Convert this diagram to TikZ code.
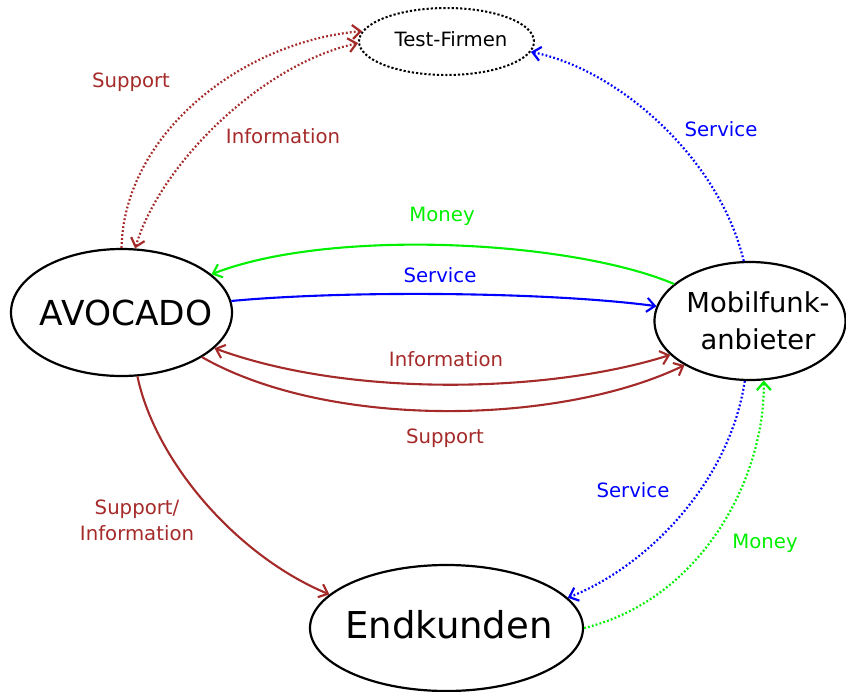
\documentclass[tikz,border=0pt]{standalone}
\usepackage{fontspec}
\setmainfont{DejaVu Sans}
\usetikzlibrary{arrows.meta,shapes.geometric}
\definecolor{cbrown}{RGB}{165,42,42}
\definecolor{cblue}{RGB}{0,0,255}
\definecolor{cgreen}{RGB}{0,240,0}
\tikzset{
  ent/.style={ellipse, draw=black, line width=2.2pt, inner sep=0pt, fill=white},
  lbl/.style={font=\fontsize{19.7}{23}\selectfont, inner sep=0pt},
  conn/.style={line width=2.1pt, arrows={-Straight Barb[length=8pt,width=14pt]}},
  dots/.style={line width=2.2pt, dash pattern=on 1.8pt off 2.2pt},
  both/.style={arrows={Straight Barb[length=8pt,width=14pt]-Straight Barb[length=8pt,width=14pt]}}
}
\begin{document}
\begin{tikzpicture}[x=1pt,y=-1pt]
\useasboundingbox (0,0) rectangle (846,691);
% entities
\node[ent, dotted, line width=2pt, minimum width=175pt, minimum height=67pt] (tf) at (446.5,41.5) {};
\node[lbl, text=black] (tft) at (451,39) {Test-Firmen};
\node[ent, minimum width=221pt, minimum height=127pt] (avo) at (121.5,312.5) {};
\node[font=\fontsize{34.4}{40}\selectfont, inner sep=0pt] (avot) at (126,313) {AVOCADO};
\node[ent, minimum width=191pt, minimum height=118pt] (mob) at (750,321) {};
\node[font=\fontsize{27.4}{37}\selectfont, inner sep=0pt, align=center] (mobt) at (758,321) {Mobilfunk-\\anbieter};
\node[ent, minimum width=273pt, minimum height=126pt] (ek) at (446.5,628) {};
\node[font=\fontsize{37}{44}\selectfont, inner sep=0pt] (ekt) at (449,625) {Endkunden};

% connectors
\draw[conn, dots, cbrown] (avo.90) .. controls (124,135) and (240,42) .. (tf.173);
\draw[conn, dots, both, cbrown] (tf.181) .. controls (260,65) and (160,165) .. (avo.78);
\draw[conn, dots, cblue] (mob.96) .. controls (720,160) and (620,70) .. (tf.-7);
\draw[conn, cgreen] (mob.154) .. controls (570,240) and (330,228) .. (avo.23);
\draw[conn, cblue] (avo.6) .. controls (350,290) and (550,292) .. (mob.171);
\draw[conn, both, cbrown] (avo.-21) .. controls (350,398) and (550,393) .. (mob.203);
\draw[conn, cbrown] (avo.-29.5) .. controls (330,430) and (560,425) .. (mob.214);
\draw[conn, cbrown] (avo.-76) .. controls (155,460) and (235,555) .. (ek.164);
\draw[conn, dots, cblue] (mob.-95) .. controls (730,480) and (650,565) .. (ek.14);
\draw[conn, dots, cgreen] (ek.0) .. controls (700,600) and (765,480) .. (mob.-77);

% labels
\node[lbl, text=cbrown] (l1) at (131,82) {Support};
\node[lbl, text=cbrown] (l2) at (283,136) {Information};
\node[lbl, text=cblue] (l3) at (721,129) {Service};
\node[lbl, text=cgreen] (l4) at (442,216) {Money};
\node[lbl, text=cblue] (l5) at (440,275) {Service};
\node[lbl, text=cbrown] (l6) at (446,359) {Information};
\node[lbl, text=cbrown] (l7) at (445,438) {Support};
\node[lbl, text=cbrown, align=center, font=\fontsize{19.7}{26}\selectfont] (l8) at (137,520) {Support/\\Information};
\node[lbl, text=cblue] (l9) at (633,490) {Service};
\node[lbl, text=cgreen] (l10) at (765,543) {Money};
\end{tikzpicture}
\end{document}
